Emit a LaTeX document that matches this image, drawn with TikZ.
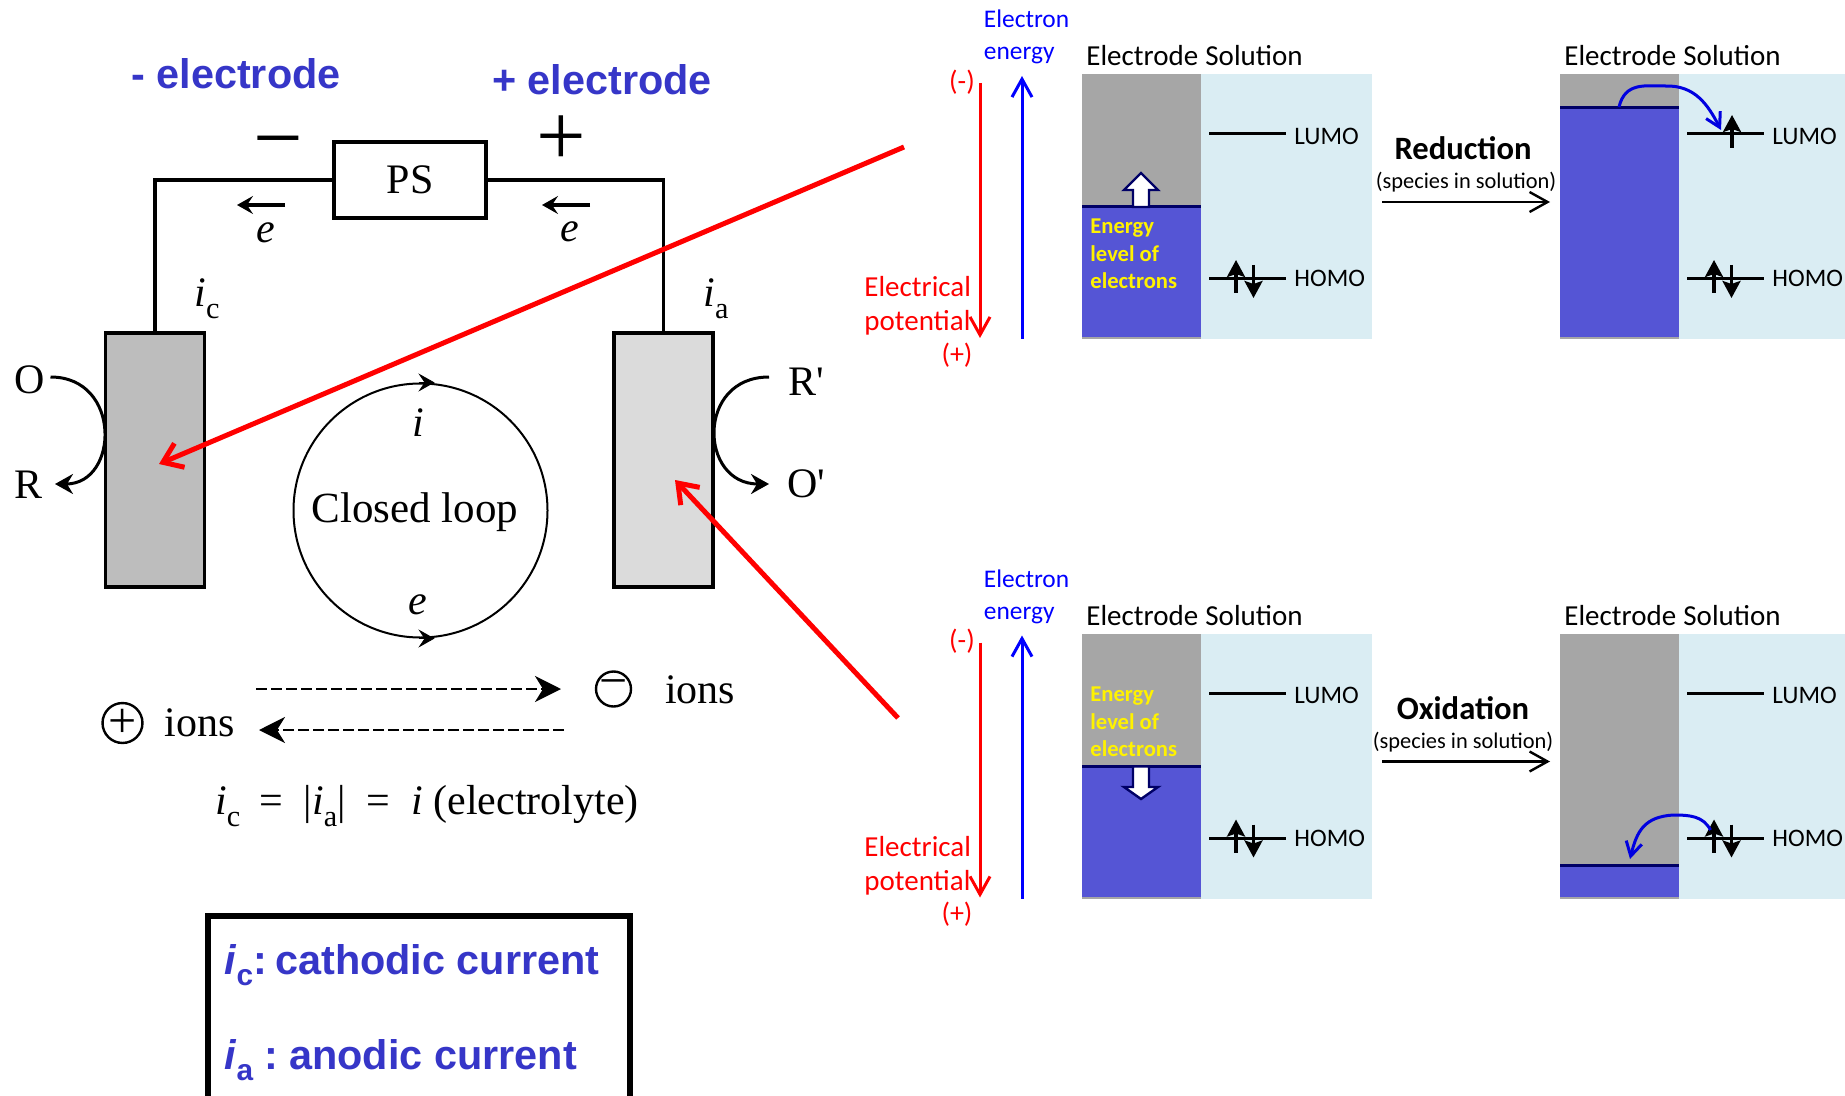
\documentclass[tikz,border=0pt]{standalone}
\usepackage{fontspec}
\setmainfont{Carlito}
\newfontfamily\timesfam{Liberation Serif}
\newfontfamily\arialfam{Liberation Sans}
\usetikzlibrary{arrows.meta,positioning,calc}
\newcommand{\fsz}[2]{\fontsize{#1}{#2}\selectfont}
\newcommand{\subt}[1]{\raisebox{-0.28em}{\scalebox{0.72}{#1}}}
\definecolor{labelblue}{HTML}{3636C8}
\definecolor{darkgrey}{HTML}{BDBDBD}
\definecolor{lightgrey}{HTML}{DBDBDB}
\definecolor{metalgrey}{HTML}{A6A6A6}
\definecolor{fillblue}{HTML}{5555D5}
\definecolor{solnblue}{HTML}{DAEDF3}
\definecolor{fermiblue}{HTML}{000066}
\tikzset{
  % Base styles
  diagram base/.style={x=0.5pt, y=-0.5pt, >=Stealth},
  % Circuit (left side)
  serif label/.style={font=\timesfam\fsz{21}{25}, inner sep=0pt},
  title label/.style={font=\arialfam\bfseries\fsz{20.7}{25}, text=labelblue, inner sep=0pt},
  electrode node/.style={rectangle, draw, line width=1.8pt, minimum width=49.5pt, minimum height=127pt, inner sep=0pt},
  wire/.style={line width=1.8pt},
  small tip/.style={line width=1.6pt, -{Stealth[length=8pt,width=9pt,inset=3pt]}},
  loop tip/.style={-{Stealth[length=8pt,width=9pt,inset=3pt]}},
  curve tip/.style={line width=1.5pt, -{Stealth[length=9pt,width=10pt,inset=3pt]}},
  ion line/.style={line width=1.3pt, dash pattern=on 5.5pt off 2pt, -{Stealth[length=13pt,width=13pt,inset=4pt]}},
  ion sign/.style={circle, draw, line width=1.2pt, minimum size=17.5pt, inner sep=0pt, font=\timesfam\fsz{25}{25}},
  red pointer/.style={red, line width=2.5pt, -{Straight Barb[length=9pt,width=13pt]}},
  % Energy panels (right side)
  panel label/.style={font=\fsz{14.5}{17}, inner sep=0pt, anchor=west},
  level label/.style={font=\fsz{12.6}{15}, inner sep=0pt, anchor=west},
  level line/.style={line width=1.5pt},
  spin tip/.style={line width=1.6pt, -{Stealth[length=8.5pt,width=9pt,inset=1.5pt]}},
  yellow label/.style={font=\bfseries\fsz{11.3}{13.75}, text=yellow, inner sep=0pt, anchor=west, align=left},
  axis tip/.style={line width=1.5pt, -{Straight Barb[length=9pt,width=10pt]}},
  block arrow/.style={draw=fermiblue, fill=white, line width=1.2pt},
  hop curve/.style={blue!88!black, line width=1.5pt, -{Straight Barb[length=7pt,width=8pt]}},
}
\begin{document}
\begin{tikzpicture}[diagram base]
  \clip[use as bounding box] (0,0) rectangle (1845,1096);
  \fill[white] (0,0) rectangle (1845,1096);

  % Circuit
  \node[title label] (minustitle) at (236,74) {- electrode};
  \node[title label] (plustitle) at (602,80) {+ electrode};
  \node[rectangle, draw, wire, minimum width=76pt, minimum height=38pt, inner sep=0pt, serif label] (PS) at (410,180) {PS};
  \node[serif label, font=\timesfam\fsz{44}{44}] (minus) at (278,152) {−};
  \node[serif label, font=\timesfam\fsz{44}{44}] (plus) at (561,141) {+};
  \node[electrode node, fill=darkgrey] (cathode) at (155,460) {};
  \node[electrode node, fill=lightgrey] (anode) at (663.5,460) {};
  \draw[wire] (PS.west) -| (cathode.north);
  \draw[wire] (PS.east) -| (anode.north);
  \coordinate (ela) at (285,205);
  \coordinate (elb) at (237,205);
  \coordinate (era) at (590,205);
  \coordinate (erb) at (542,205);
  \draw[small tip] (ela) -- (elb);
  \draw[small tip] (era) -- (erb);
  \node[serif label] (eleft) at (266,233) {\textit{e}};
  \node[serif label] (eright) at (570,232) {\textit{e}};
  \node[serif label] (ic) at (207,299) {\textit{i}\subt{c}};
  \node[serif label] (ia) at (716,299) {\textit{i}\subt{a}};

  % Reactions at the electrodes
  \node[serif label] (O) at (30,380) {O};
  \node[serif label] (R) at (29,485) {R};
  \node[serif label] (Rp) at (806,382) {R'};
  \node[serif label] (Op) at (806,484) {O'};
  \coordinate (Otail) at (50.5,377);
  \coordinate (Rtip) at (55,484);
  \coordinate (Rptail) at (769,377);
  \coordinate (Optip) at (769,484);
  \draw[curve tip] (Otail) .. controls (122,377) and (119,484) .. (Rtip);
  \draw[curve tip] (Rptail) .. controls (696,377) and (699,484) .. (Optip);

  % Closed loop
  \node[circle, draw, line width=1pt, minimum size=127pt, inner sep=0pt] (loop) at (420.5,510.5) {};
  \node[serif label, font=\timesfam\fsz{21.5}{25}] (looptext) at (415,512.5) {Closed loop};
  \draw[loop tip] ($(loop.north)+(-2,0)$) -- ($(loop.north)+(14,0)$);
  \draw[loop tip] ($(loop.south)+(-2,0)$) -- ($(loop.south)+(14,0)$);
  \node[serif label] (iloop) at (418,423) {\textit{i}};
  \node[serif label] (eloop) at (418,605) {\textit{e}};

  % Ions
  \coordinate (topa) at (256,689);
  \coordinate (topb) at (561,689);
  \coordinate (bota) at (564,730);
  \coordinate (botb) at (259,730);
  \draw[ion line] (topa) -- (topb);
  \draw[ion line] (bota) -- (botb);
  \node[ion sign] (minusion) at (613.5,689) {−};
  \node[ion sign] (plusion) at (122.5,723) {+};
  \node[serif label] (ionsright) at (700,690) {ions};
  \node[serif label] (ionsleft) at (200,723) {ions};
  \node[serif label] (balance) at (427,806) {\textit{i}\subt{c}\hspace{.45em}=\hspace{.5em}|\textit{i}\subt{a}|\hspace{.5em}=\hspace{.5em}\textit{i} (electrolyte)};

  % Legend box
  \node[rectangle, draw, line width=3pt, minimum width=211pt, minimum height=97pt, inner sep=0pt] (legend) at (419,1013) {};
  \node[title label, anchor=west] (legendc) at (224,965) {\textit{i}\subt{c}:\hspace{.2em}cathodic current};
  \node[title label, anchor=west] (legenda) at (224,1060) {\textit{i}\subt{a}\hspace{.27em}:\hspace{.27em}anodic current};

  % Energy axes and reaction labels
  \foreach \rw/\dy in {t/0,b/559.5} {
    \node[font=\fsz{12.7}{16}, text=blue, inner sep=0pt, anchor=west, align=left] (energy\rw) at (983.5,37+\dy) {Electron\\energy};
    \node[font=\fsz{14.5}{17.2}, text=red, inner sep=0pt, anchor=west, align=left] (potential\rw) at (864,306+\dy) {Electrical\\potential};
    \node[font=\fsz{14}{17}, text=red, inner sep=0pt] (neg\rw) at (962,82+\dy) {(-)};
    \node[font=\fsz{14}{17}, text=red, inner sep=0pt] (pos\rw) at (957,355+\dy) {(+)};
    \coordinate (reda\rw) at (980,83+\dy);
    \coordinate (redb\rw) at (980,338+\dy);
    \coordinate (bluea\rw) at (1022,339+\dy);
    \coordinate (blueb\rw) at (1022,76+\dy);
    \draw[axis tip, red] (reda\rw) -- (redb\rw);
    \draw[axis tip, blue] (bluea\rw) -- (blueb\rw);
    \coordinate (reacta\rw) at (1382,202+\dy);
    \coordinate (reactb\rw) at (1550,202+\dy);
    \draw[axis tip, black, line width=1.2pt] (reacta\rw) -- (reactb\rw);
  }
  \node[font=\bfseries\fsz{16.3}{20}, inner sep=0pt] (reduction) at (1463,148) {Reduction};
  \node[font=\fsz{11.2}{14}, inner sep=0pt] (speciest) at (1466,182) {(species in solution)};
  \node[font=\bfseries\fsz{16.3}{20}, inner sep=0pt] (oxidation) at (1463,708) {Oxidation};
  \node[font=\fsz{11.2}{14}, inner sep=0pt] (speciesb) at (1463,742) {(species in solution)};

  % Energy panels
  \foreach \pn/\dx/\dy/\fl in {A/0/0/207,B/478/0/108,C/0/559.5/207,D/478/559.5/305.5} {
    \fill[solnblue] (1201+\dx,74+\dy) rectangle (1372+\dx,339+\dy);
    \fill[metalgrey] (1082+\dx,74+\dy) rectangle (1201+\dx,339+\dy);
    \fill[fillblue] (1082+\dx,\fl+\dy) rectangle (1201+\dx,337+\dy);
    \draw[fermiblue, line width=1.5pt] (1082+\dx,\fl+\dy) -- (1201+\dx,\fl+\dy);
    \node[panel label] (electrode\pn) at (1086+\dx,56+\dy) {Electrode};
    \node[panel label] (solution\pn) at (1205+\dx,56+\dy) {Solution};
    \node[level label] (LUMO\pn) at (1294+\dx,136+\dy) {LUMO};
    \node[level label] (HOMO\pn) at (1294+\dx,278.5+\dy) {HOMO};
    \coordinate (lumoa\pn) at (1209+\dx,134+\dy);
    \coordinate (lumob\pn) at (1286+\dx,134+\dy);
    \coordinate (homoa\pn) at (1209+\dx,279+\dy);
    \coordinate (homob\pn) at (1286+\dx,279+\dy);
    \draw[level line] (lumoa\pn) -- (lumob\pn);
    \draw[level line] (homoa\pn) -- (homob\pn);
    \coordinate (upa\pn) at (1236+\dx,293+\dy);
    \coordinate (upb\pn) at (1236+\dx,260+\dy);
    \coordinate (downa\pn) at (1253.5+\dx,265+\dy);
    \coordinate (downb\pn) at (1253.5+\dx,298+\dy);
    \draw[spin tip] (upa\pn) -- (upb\pn);
    \draw[spin tip] (downa\pn) -- (downb\pn);
  }
  \coordinate (singlea) at (1732,148);
  \coordinate (singleb) at (1732,115);
  \draw[spin tip] (singlea) -- (singleb);
  \draw[block arrow] (1133,207) -- (1133,190) -- (1124,190) -- (1141,173) -- (1158,190) -- (1149,190) -- (1149,207) -- cycle;
  \draw[block arrow] (1133,766.5) -- (1133,787) -- (1124,787) -- (1141,799) -- (1158,787) -- (1149,787) -- (1149,766.5) -- cycle;
  \node[yellow label] (levelt) at (1090,254) {Energy\\level of\\electrons};
  \node[yellow label] (levelb) at (1090,722) {Energy\\level of\\electrons};
  \coordinate (hopa) at (1619,107);
  \coordinate (hopb) at (1721,130);
  \coordinate (hopc) at (1710.5,830);
  \coordinate (hopd) at (1630,859);
  \draw[hop curve] (hopa) .. controls (1625,82) and (1645,86) .. (1665,86) .. controls (1695,85) and (1708,105) .. (hopb);
  \draw[hop curve] (hopc) .. controls (1703,816) and (1690,815) .. (1673,815) .. controls (1645,817) and (1637,830) .. (hopd);

  % Pointers from the electrodes to the panels
  \coordinate (pointa) at (904,147);
  \coordinate (pointb) at (159,464);
  \coordinate (pointc) at (898,718);
  \coordinate (pointd) at (675,480);
  \draw[red pointer] (pointa) -- (pointb);
  \draw[red pointer] (pointc) -- (pointd);
\end{tikzpicture}
\end{document}
